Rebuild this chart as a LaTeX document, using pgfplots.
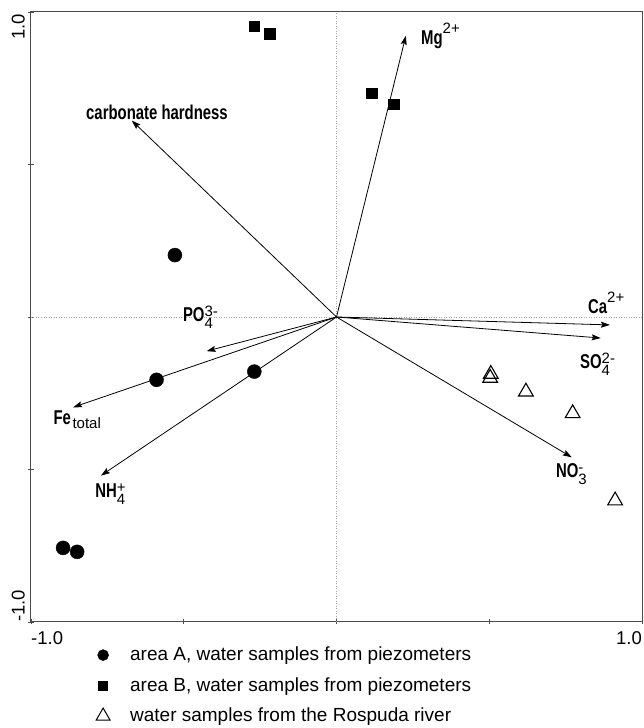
\documentclass[border=0pt]{standalone}
\usepackage{pgfplots}
\pgfplotsset{compat=1.18}
\usepackage{fontspec}
\setmainfont{Liberation Sans}
\newfontfamily\lblfont[FakeStretch=0.745]{Liberation Sans}
\usetikzlibrary{arrows.meta}
\newcommand{\lf}{\fontsize{20}{22}\selectfont\lblfont\bfseries}
\newcommand{\smallf}{\normalfont\fontsize{15}{16}\selectfont}
\newcommand{\ionsup}[2]{{\lf #1}\raisebox{11pt}{\smallf #2}}
\newcommand{\ionsubsup}[3]{{\lf #1}\rlap{\raisebox{-7pt}{\smallf #2}}\raisebox{5pt}{\smallf #3}}
\begin{document}
\begin{tikzpicture}
\path[use as bounding box] (0,0) rectangle (644pt,728pt);
\begin{axis}[
  at={(31pt,106pt)}, anchor=south west,
  scale only axis, width=611pt, height=610pt,
  xmin=-1, xmax=1, ymin=-1, ymax=1,
  clip=false,
  axis line style={line width=1pt, black!70},
  xtick={-1,-0.5,0,0.5,1}, ytick={-1,-0.5,0,0.5,1},
  xticklabels={\empty,\empty,\empty,\empty,\empty},
  yticklabels={\empty,\empty,\empty,\empty,\empty},
  xtick pos=bottom, ytick pos=left,
  tick align=center, major tick length=5pt,
  tick style={black!70, line width=0.8pt},
  legend image code/.code={\path[draw=none,fill=none] (0pt,-1pt) rectangle (22pt,11pt); \draw[#1] plot coordinates {(9pt,5.5pt)};},
  legend cell align=left,
  legend style={at={(axis description cs:0.103,-0.040)}, anchor=north west,
    draw=none, fill=none, inner sep=0pt, row sep=12.5pt, column sep=14pt,
    font=\fontsize{19}{20}\selectfont,
    nodes={inner sep=0pt, text height=14pt, text depth=4pt, anchor=base west}},
  legend columns=1,
]
% reference lines
\addplot[black!35, line width=0.6pt, dash pattern=on 1pt off 1.5pt, forget plot] coordinates {(-1,0) (1,0)};
\addplot[black!35, line width=0.6pt, dash pattern=on 1pt off 1.5pt, forget plot] coordinates {(0,-1) (0,1)};
% arrows
\pgfplotsset{arr/.style={black, line width=0.8pt, -{Stealth[length=9pt,width=6pt,inset=1.5pt]}, no marks, forget plot}}
\addplot[arr] coordinates {(0,0) (0.227,0.922)};
\addplot[arr] coordinates {(0,0) (-0.670,0.644)};
\addplot[arr] coordinates {(0,0) (0.895,-0.026)};
\addplot[arr] coordinates {(0,0) (0.865,-0.069)};
\addplot[arr] coordinates {(0,0) (0.770,-0.460)};
\addplot[arr] coordinates {(0,0) (-0.425,-0.112)};
\addplot[arr] coordinates {(0,0) (-0.862,-0.296)};
\addplot[arr] coordinates {(0,0) (-0.771,-0.520)};
% area A
\addplot[only marks, mark=*, mark size=7pt, black, forget plot] coordinates {
(-0.529,0.203) (-0.589,-0.206) (-0.269,-0.179) (-0.895,-0.757) (-0.849,-0.770)};
% area B
\addplot[only marks, mark=square*, mark size=5.3pt, black, forget plot] coordinates {
(-0.270,0.954) (-0.218,0.928) (0.116,0.734) (0.188,0.698)};
% river
\addplot[only marks, mark=triangle, mark size=8.5pt, black, line width=1.1pt, forget plot] coordinates {
(0.505,-0.187) (0.503,-0.200) (0.620,-0.245) (0.773,-0.316) (0.912,-0.602)};
% legend
\addlegendimage{only marks, mark=*, mark size=5.5pt, black}
\addlegendentry{area A, water samples from piezometers}
\addlegendimage{only marks, mark=square*, mark size=4.5pt, black}
\addlegendentry{area B, water samples from piezometers}
\addlegendimage{only marks, mark=triangle, mark size=8pt, black, line width=1pt}
\addlegendentry{water samples from the Rospuda river}
% variable labels
\node[anchor=base west, inner sep=0pt] at (axis cs:0.2766,0.892) {\ionsup{Mg}{2+}};
\node[anchor=base west, inner sep=0pt] at (axis cs:-0.820,0.649) {\lf carbonate hardness};
\node[anchor=base west, inner sep=0pt] at (axis cs:0.823,0.010) {\ionsup{Ca}{2+}};
\node[anchor=base west, inner sep=0pt] at (axis cs:0.797,-0.170) {\ionsubsup{SO}{4}{2-}};
\node[anchor=base west, inner sep=0pt] at (axis cs:0.718,-0.525) {\ionsubsup{NO}{3}{-}};
\node[anchor=base west, inner sep=0pt] at (axis cs:-0.503,-0.015) {\ionsubsup{PO}{4}{3-}};
\node[anchor=base west, inner sep=0pt] at (axis cs:-0.927,-0.354) {{\lf Fe}\,\raisebox{-4pt}{\smallf total}};
\node[anchor=base west, inner sep=0pt] at (axis cs:-0.790,-0.593) {\ionsubsup{NH}{4}{+}};
\end{axis}
% tick labels
\node[anchor=north west, inner sep=0pt, font=\fontsize{18.5}{20}\selectfont] at (31pt,97pt) {-1.0};
\node[anchor=north east, inner sep=0pt, font=\fontsize{18.5}{20}\selectfont] at (642pt,97pt) {1.0};
\node[rotate=90, anchor=south west, inner sep=0pt, font=\fontsize{18.5}{20}\selectfont] at (25pt,106pt) {-1.0};
\node[rotate=90, anchor=south east, inner sep=0pt, font=\fontsize{18.5}{20}\selectfont] at (25pt,714pt) {1.0};
\end{tikzpicture}
\end{document}
